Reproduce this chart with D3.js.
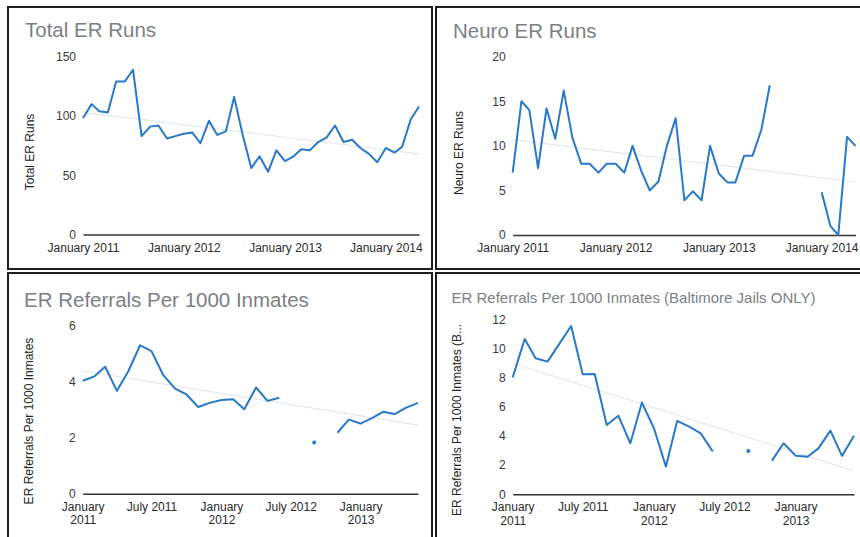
<!DOCTYPE html>
<html>
<head>
<meta charset="utf-8">
<script src="https://cdn.jsdelivr.net/npm/d3@7"></script>
<style>
  body { margin: 0; background: #fff; }
  svg { display: block; font-family: Arial, "Liberation Sans", sans-serif; }
</style>
</head>
<body>
<svg id="chart" width="860" height="537"></svg>
<script>
// months on the x axis (categories)
var longMonths = d3.timeMonth.range(new Date(2011, 0, 1), new Date(2014, 5, 1));  // Jan 2011 - May 2014
var shortMonths = d3.timeMonth.range(new Date(2011, 0, 1), new Date(2013, 6, 1)); // Jan 2011 - Jun 2013

// series values (null = no data)
var totalRuns = [98, 110, 104, 103, 129, 129, 139, 83, 91, 92,
  81, 83, 85, 86, 77, 96, 84, 87, 116, 84,
  56, 66, 53, 71, 62, 66, 72, 71, 78, 82,
  92, 78, 80, 73, 68, 61, 73, 69, 74, 97, 108];

var neuroRuns = [7, 15, 14, 7.5, 14.2, 10.8, 16.2, 10.9, 8, 8,
  7, 8, 8, 7, 10, 7.2, 5, 6, 10, 13.1,
  3.9, 4.9, 3.9, 10, 6.9, 5.9, 5.9, 8.9, 8.9, 11.8,
  16.8, null, null, null, null, null, 4.8, 1, 0, 11, 10];

var referralsPer1000 = [4.04, 4.2, 4.54, 3.68, 4.38, 5.31, 5.1, 4.24, 3.76, 3.55,
  3.1, 3.25, 3.35, 3.38, 3.02, 3.8, 3.32, 3.43, null, null,
  1.83, null, 2.18, 2.65, 2.51, 2.71, 2.93, 2.85, 3.08, 3.25];

var baltimorePer1000 = [8.02, 10.65, 9.33, 9.1, 10.3, 11.54, 8.23, 8.25, 4.75, 5.39,
  3.5, 6.29, 4.53, 1.9, 5.03, 4.64, 4.18, 2.93, null, null,
  2.97, null, 2.31, 3.5, 2.65, 2.58, 3.15, 4.37, 2.63, 4.02];

// tick values and labels
var yearTicks = [new Date(2011, 0, 1), new Date(2012, 0, 1), new Date(2013, 0, 1), new Date(2014, 0, 1)];
var yearTickLabels = [["January 2011"], ["January 2012"], ["January 2013"], ["January 2014"]];
var halfTicks = [new Date(2011, 0, 1), new Date(2011, 6, 1), new Date(2012, 0, 1), new Date(2012, 6, 1), new Date(2013, 0, 1)];
var halfTickLabels = [["January", "2011"], ["July 2011"], ["January", "2012"], ["July 2012"], ["January", "2013"]];

var totalTicks = [0, 50, 100, 150];
var neuroTicks = [0, 5, 10, 15, 20];
var referralTicks = [0, 2, 4, 6];
var baltimoreTicks = [0, 2, 4, 6, 8, 10, 12];

var lineColor = "#2a78c8";
var svg = d3.select("#chart");

// one chart card
function drawPanel(p) {
  var g = svg.append("g");

  //card border
  g.append("rect")
    .attr("x", p.box[0]).attr("y", p.box[1])
    .attr("width", p.box[2]).attr("height", p.box[3])
    .attr("fill", "none")
    .attr("stroke", "#1e1e1e")
    .attr("stroke-width", 2);

  g.append("text")
    .attr("x", p.titleX).attr("y", p.titleY)
    .attr("font-size", p.titleSize)
    .attr("fill", "#7a7f85")
    .text(p.title);

  var x = d3.scaleTime()
    .domain([p.months[0], p.months[p.months.length - 1]])
    .range([p.left, p.right]);

  var y = d3.scaleLinear()
    .domain([0, p.ticks[p.ticks.length - 1]])
    .range([p.bottom, p.top]);

  // y axis: labels only
  var yAxis = g.append("g")
    .attr("transform", "translate(" + p.left + ",0)")
    .call(d3.axisLeft(y).tickValues(p.ticks).tickFormat(d3.format("d")).tickSize(0).tickPadding(7));
  yAxis.select(".domain").remove();
  yAxis.selectAll("text")
    .attr("font-size", 12)
    .attr("font-family", "Arial, 'Liberation Sans', sans-serif")
    .attr("fill", "#3a3a3a");

  // x axis, its domain line is the zero baseline
  var xAxis = g.append("g")
    .attr("transform", "translate(0," + p.bottom + ")")
    .call(d3.axisBottom(x).tickValues(p.xTicks).tickSize(0).tickSizeOuter(0).tickPadding(8.5));
  xAxis.select(".domain")
    .attr("stroke", "#333")
    .attr("stroke-width", 1.4);
  xAxis.selectAll("text")
    .attr("font-size", 12)
    .attr("font-family", "Arial, 'Liberation Sans', sans-serif")
    .attr("fill", "#2a2a2a")
    .each(function (d, i) {
      var t = d3.select(this).text(null);
      p.xLabels[i].forEach(function (line, k) {
        t.append("tspan").attr("x", 0).attr("dy", k ? "1.13em" : null).text(line);
      });
    });

  // y axis title
  g.append("text")
    .attr("transform", "translate(" + p.yTitle[0] + "," + p.yTitle[1] + ") rotate(-90)")
    .attr("text-anchor", "middle")
    .attr("dy", "0.35em")
    .attr("font-size", 12)
    .attr("fill", "#222")
    .text(p.yLabel);

  var pts = p.values.map(function (v, i) { return { date: p.months[i], i: i, v: v }; });

  // linear trendline over the points that have data
  var known = pts.filter(function (d) { return d.v != null; });
  var mx = d3.mean(known, function (d) { return d.i; });
  var my = d3.mean(known, function (d) { return d.v; });
  var slope = d3.sum(known, function (d) { return (d.i - mx) * (d.v - my); }) /
    d3.sum(known, function (d) { return (d.i - mx) * (d.i - mx); });
  var trend = [pts[0], pts[pts.length - 1]].map(function (d) {
    return { date: d.date, v: my + slope * (d.i - mx) };
  });
  g.append("path")
    .datum(trend)
    .attr("fill", "none")
    .attr("stroke", "#e3e9ee")
    .attr("stroke-width", 1.2)
    .attr("d", d3.line().x(function (d) { return x(d.date); }).y(function (d) { return y(d.v); }));

  var line = d3.line()
    .defined(function (d) { return d.v != null; })
    .x(function (d) { return x(d.date); })
    .y(function (d) { return y(d.v); });

  g.append("path")
    .datum(pts)
    .attr("fill", "none")
    .attr("stroke", lineColor)
    .attr("stroke-width", 2)
    .attr("stroke-linejoin", "round")
    .attr("d", line);

  // points with no neighbours show as a dot
  var lonely = pts.filter(function (d, i) {
    return d.v != null &&
      (i == 0 || pts[i - 1].v == null) &&
      (i == pts.length - 1 || pts[i + 1].v == null);
  });
  g.selectAll("circle.lonely")
    .data(lonely)
    .enter()
    .append("circle")
    .attr("class", "lonely")
    .attr("cx", function (d) { return x(d.date); })
    .attr("cy", function (d) { return y(d.v); })
    .attr("r", 2)
    .attr("fill", lineColor);
}

drawPanel({
  box: [8, 7, 424, 262],
  title: "Total ER Runs", titleX: 25, titleY: 37, titleSize: 20.5,
  months: longMonths, values: totalRuns,
  ticks: totalTicks, xTicks: yearTicks, xLabels: yearTickLabels,
  left: 83, right: 419, top: 56.7, bottom: 234.5,
  yLabel: "Total ER Runs", yTitle: [30, 152]
});

drawPanel({
  box: [436, 7, 440, 262],
  title: "Neuro ER Runs", titleX: 453, titleY: 37.5, titleSize: 20.5,
  months: longMonths, values: neuroRuns,
  ticks: neuroTicks, xTicks: yearTicks, xLabels: yearTickLabels,
  left: 512.7, right: 855.5, top: 56.7, bottom: 235,
  yLabel: "Neuro ER Runs", yTitle: [459, 153]
});

drawPanel({
  box: [8, 273, 424, 300],
  title: "ER Referrals Per 1000 Inmates", titleX: 24, titleY: 306.5, titleSize: 20.5,
  months: shortMonths, values: referralsPer1000,
  ticks: referralTicks, xTicks: halfTicks, xLabels: halfTickLabels,
  left: 82.7, right: 418, top: 326, bottom: 493.7,
  yLabel: "ER Referrals Per 1000 Inmates", yTitle: [29, 421]
});

drawPanel({
  box: [436, 273, 440, 300],
  title: "ER Referrals Per 1000 Inmates (Baltimore Jails ONLY)", titleX: 451.5, titleY: 302.5, titleSize: 15,
  months: shortMonths, values: baltimorePer1000,
  ticks: baltimoreTicks, xTicks: halfTicks, xLabels: halfTickLabels,
  left: 512.7, right: 854, top: 319.3, bottom: 494.3,
  yLabel: "ER Referrals Per 1000 Inmates (B...", yTitle: [457, 420]
});
</script>
</body>
</html>
